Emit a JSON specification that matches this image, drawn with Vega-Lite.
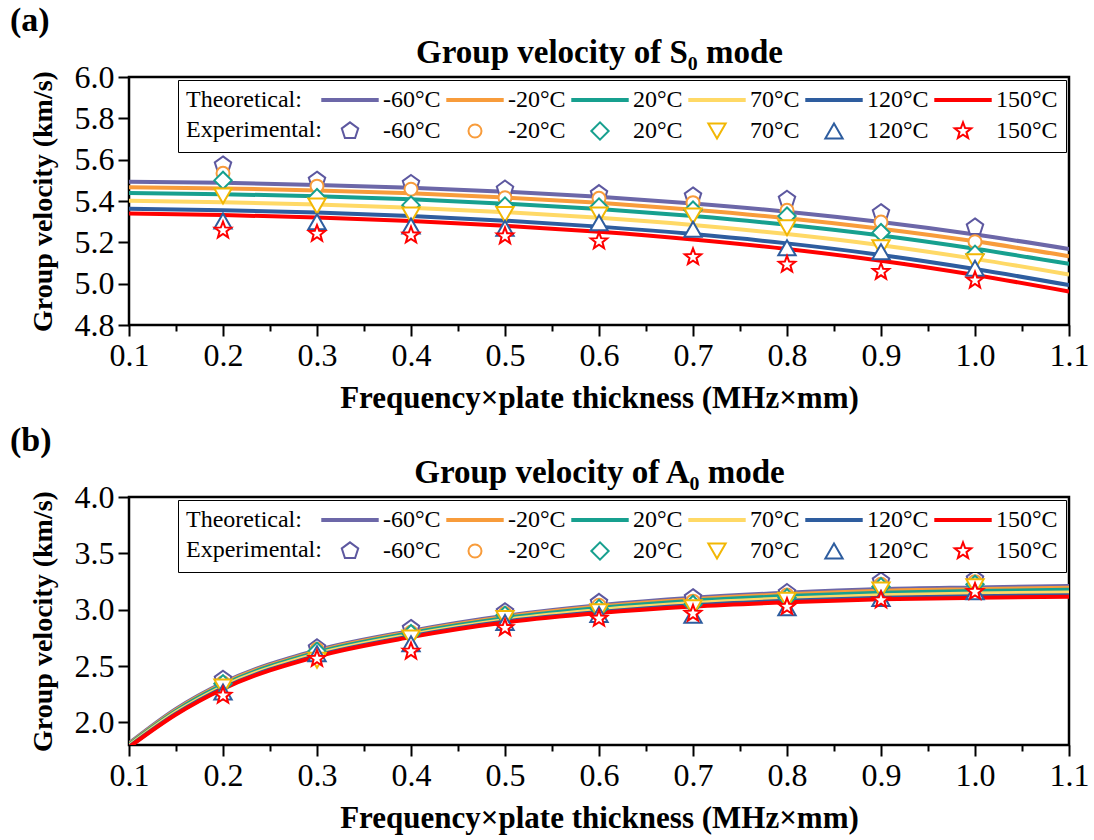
{
  "$schema": "https://vega.github.io/schema/vega-lite/v6.json",
  "padding": {"left": 8, "top": 2, "right": 5, "bottom": 2},
  "background": "white",
  "config": {
    "font": "Liberation Serif",
    "view": {"stroke": "black", "strokeWidth": 2.5},
    "axis": {
      "labelFont": "Liberation Serif", "labelFontSize": 32, "labelColor": "black",
      "titleFont": "Liberation Serif", "titleFontSize": 28, "titleFontWeight": "bold", "titleColor": "black",
      "tickColor": "black", "tickWidth": 2, "domain": false, "grid": false, "labelPadding": 4,
      "labelOverlap": false, "labelFlush": false
    },
    "legend": {
      "labelFont": "Liberation Serif", "titleFont": "Liberation Serif", "direction": "horizontal"
    }
  },
  "datasets": {
    "lineA": [
      {"x": 0.1, "v": 5.493, "k": "T-60"}, {"x": 0.2, "v": 5.488, "k": "T-60"}, {"x": 0.3, "v": 5.478, "k": "T-60"}, {"x": 0.4, "v": 5.464, "k": "T-60"}, {"x": 0.5, "v": 5.445, "k": "T-60"}, {"x": 0.6, "v": 5.420, "k": "T-60"}, {"x": 0.7, "v": 5.388, "k": "T-60"}, {"x": 0.8, "v": 5.348, "k": "T-60"}, {"x": 0.9, "v": 5.298, "k": "T-60"}, {"x": 1.0, "v": 5.238, "k": "T-60"}, {"x": 1.1, "v": 5.168, "k": "T-60"},
      {"x": 0.1, "v": 5.467, "k": "T-20"}, {"x": 0.2, "v": 5.461, "k": "T-20"}, {"x": 0.3, "v": 5.451, "k": "T-20"}, {"x": 0.4, "v": 5.437, "k": "T-20"}, {"x": 0.5, "v": 5.417, "k": "T-20"}, {"x": 0.6, "v": 5.391, "k": "T-20"}, {"x": 0.7, "v": 5.358, "k": "T-20"}, {"x": 0.8, "v": 5.317, "k": "T-20"}, {"x": 0.9, "v": 5.266, "k": "T-20"}, {"x": 1.0, "v": 5.205, "k": "T-20"}, {"x": 1.1, "v": 5.133, "k": "T-20"},
      {"x": 0.1, "v": 5.439, "k": "T20"}, {"x": 0.2, "v": 5.433, "k": "T20"}, {"x": 0.3, "v": 5.423, "k": "T20"}, {"x": 0.4, "v": 5.408, "k": "T20"}, {"x": 0.5, "v": 5.387, "k": "T20"}, {"x": 0.6, "v": 5.361, "k": "T20"}, {"x": 0.7, "v": 5.327, "k": "T20"}, {"x": 0.8, "v": 5.285, "k": "T20"}, {"x": 0.9, "v": 5.233, "k": "T20"}, {"x": 1.0, "v": 5.169, "k": "T20"}, {"x": 1.1, "v": 5.096, "k": "T20"},
      {"x": 0.1, "v": 5.401, "k": "T70"}, {"x": 0.2, "v": 5.394, "k": "T70"}, {"x": 0.3, "v": 5.383, "k": "T70"}, {"x": 0.4, "v": 5.367, "k": "T70"}, {"x": 0.5, "v": 5.346, "k": "T70"}, {"x": 0.6, "v": 5.319, "k": "T70"}, {"x": 0.7, "v": 5.284, "k": "T70"}, {"x": 0.8, "v": 5.240, "k": "T70"}, {"x": 0.9, "v": 5.186, "k": "T70"}, {"x": 1.0, "v": 5.120, "k": "T70"}, {"x": 1.1, "v": 5.044, "k": "T70"},
      {"x": 0.1, "v": 5.362, "k": "T120"}, {"x": 0.2, "v": 5.355, "k": "T120"}, {"x": 0.3, "v": 5.344, "k": "T120"}, {"x": 0.4, "v": 5.327, "k": "T120"}, {"x": 0.5, "v": 5.305, "k": "T120"}, {"x": 0.6, "v": 5.276, "k": "T120"}, {"x": 0.7, "v": 5.240, "k": "T120"}, {"x": 0.8, "v": 5.195, "k": "T120"}, {"x": 0.9, "v": 5.139, "k": "T120"}, {"x": 1.0, "v": 5.071, "k": "T120"}, {"x": 1.1, "v": 4.993, "k": "T120"},
      {"x": 0.1, "v": 5.339, "k": "T150"}, {"x": 0.2, "v": 5.332, "k": "T150"}, {"x": 0.3, "v": 5.320, "k": "T150"}, {"x": 0.4, "v": 5.303, "k": "T150"}, {"x": 0.5, "v": 5.280, "k": "T150"}, {"x": 0.6, "v": 5.251, "k": "T150"}, {"x": 0.7, "v": 5.214, "k": "T150"}, {"x": 0.8, "v": 5.168, "k": "T150"}, {"x": 0.9, "v": 5.111, "k": "T150"}, {"x": 1.0, "v": 5.042, "k": "T150"}, {"x": 1.1, "v": 4.962, "k": "T150"}
    ],
    "ptsA": [
      {"x": 0.2, "v": 5.574, "k": "E-60"}, {"x": 0.3, "v": 5.500, "k": "E-60"}, {"x": 0.4, "v": 5.484, "k": "E-60"}, {"x": 0.5, "v": 5.457, "k": "E-60"}, {"x": 0.6, "v": 5.435, "k": "E-60"}, {"x": 0.7, "v": 5.424, "k": "E-60"}, {"x": 0.8, "v": 5.408, "k": "E-60"}, {"x": 0.9, "v": 5.343, "k": "E-60"}, {"x": 1.0, "v": 5.274, "k": "E-60"},
      {"x": 0.2, "v": 5.534, "k": "E-20"}, {"x": 0.3, "v": 5.472, "k": "E-20"}, {"x": 0.4, "v": 5.457, "k": "E-20"}, {"x": 0.5, "v": 5.416, "k": "E-20"}, {"x": 0.6, "v": 5.413, "k": "E-20"}, {"x": 0.7, "v": 5.392, "k": "E-20"}, {"x": 0.8, "v": 5.355, "k": "E-20"}, {"x": 0.9, "v": 5.298, "k": "E-20"}, {"x": 1.0, "v": 5.203, "k": "E-20"},
      {"x": 0.2, "v": 5.500, "k": "E20"}, {"x": 0.3, "v": 5.416, "k": "E20"}, {"x": 0.4, "v": 5.380, "k": "E20"}, {"x": 0.5, "v": 5.376, "k": "E20"}, {"x": 0.6, "v": 5.371, "k": "E20"}, {"x": 0.7, "v": 5.356, "k": "E20"}, {"x": 0.8, "v": 5.327, "k": "E20"}, {"x": 0.9, "v": 5.247, "k": "E20"}, {"x": 1.0, "v": 5.142, "k": "E20"},
      {"x": 0.2, "v": 5.424, "k": "E70"}, {"x": 0.3, "v": 5.376, "k": "E70"}, {"x": 0.4, "v": 5.332, "k": "E70"}, {"x": 0.5, "v": 5.335, "k": "E70"}, {"x": 0.6, "v": 5.332, "k": "E70"}, {"x": 0.7, "v": 5.327, "k": "E70"}, {"x": 0.8, "v": 5.271, "k": "E70"}, {"x": 0.9, "v": 5.174, "k": "E70"}, {"x": 1.0, "v": 5.106, "k": "E70"},
      {"x": 0.2, "v": 5.303, "k": "E120"}, {"x": 0.3, "v": 5.300, "k": "E120"}, {"x": 0.4, "v": 5.279, "k": "E120"}, {"x": 0.5, "v": 5.268, "k": "E120"}, {"x": 0.6, "v": 5.295, "k": "E120"}, {"x": 0.7, "v": 5.263, "k": "E120"}, {"x": 0.8, "v": 5.174, "k": "E120"}, {"x": 0.9, "v": 5.155, "k": "E120"}, {"x": 1.0, "v": 5.074, "k": "E120"},
      {"x": 0.2, "v": 5.258, "k": "E150"}, {"x": 0.3, "v": 5.242, "k": "E150"}, {"x": 0.4, "v": 5.234, "k": "E150"}, {"x": 0.5, "v": 5.230, "k": "E150"}, {"x": 0.6, "v": 5.206, "k": "E150"}, {"x": 0.7, "v": 5.129, "k": "E150"}, {"x": 0.8, "v": 5.093, "k": "E150"}, {"x": 0.9, "v": 5.058, "k": "E150"}, {"x": 1.0, "v": 5.016, "k": "E150"}
    ],
    "lineB": [
      {"x": 0.1, "v": 1.815, "k": "T-60"}, {"x": 0.15, "v": 2.12, "k": "T-60"}, {"x": 0.2, "v": 2.352, "k": "T-60"}, {"x": 0.3, "v": 2.64, "k": "T-60"}, {"x": 0.4, "v": 2.812, "k": "T-60"}, {"x": 0.5, "v": 2.946, "k": "T-60"}, {"x": 0.6, "v": 3.04, "k": "T-60"}, {"x": 0.7, "v": 3.106, "k": "T-60"}, {"x": 0.8, "v": 3.151, "k": "T-60"}, {"x": 0.9, "v": 3.183, "k": "T-60"}, {"x": 1.0, "v": 3.198, "k": "T-60"}, {"x": 1.1, "v": 3.21, "k": "T-60"},
      {"x": 0.1, "v": 1.809, "k": "T-20"}, {"x": 0.15, "v": 2.112, "k": "T-20"}, {"x": 0.2, "v": 2.343, "k": "T-20"}, {"x": 0.3, "v": 2.631, "k": "T-20"}, {"x": 0.4, "v": 2.803, "k": "T-20"}, {"x": 0.5, "v": 2.936, "k": "T-20"}, {"x": 0.6, "v": 3.028, "k": "T-20"}, {"x": 0.7, "v": 3.093, "k": "T-20"}, {"x": 0.8, "v": 3.137, "k": "T-20"}, {"x": 0.9, "v": 3.168, "k": "T-20"}, {"x": 1.0, "v": 3.182, "k": "T-20"}, {"x": 1.1, "v": 3.194, "k": "T-20"},
      {"x": 0.1, "v": 1.803, "k": "T20"}, {"x": 0.15, "v": 2.102, "k": "T20"}, {"x": 0.2, "v": 2.333, "k": "T20"}, {"x": 0.3, "v": 2.621, "k": "T20"}, {"x": 0.4, "v": 2.793, "k": "T20"}, {"x": 0.5, "v": 2.925, "k": "T20"}, {"x": 0.6, "v": 3.015, "k": "T20"}, {"x": 0.7, "v": 3.079, "k": "T20"}, {"x": 0.8, "v": 3.121, "k": "T20"}, {"x": 0.9, "v": 3.151, "k": "T20"}, {"x": 1.0, "v": 3.166, "k": "T20"}, {"x": 1.1, "v": 3.177, "k": "T20"},
      {"x": 0.1, "v": 1.794, "k": "T70"}, {"x": 0.15, "v": 2.09, "k": "T70"}, {"x": 0.2, "v": 2.319, "k": "T70"}, {"x": 0.3, "v": 2.607, "k": "T70"}, {"x": 0.4, "v": 2.779, "k": "T70"}, {"x": 0.5, "v": 2.91, "k": "T70"}, {"x": 0.6, "v": 2.998, "k": "T70"}, {"x": 0.7, "v": 3.059, "k": "T70"}, {"x": 0.8, "v": 3.1, "k": "T70"}, {"x": 0.9, "v": 3.129, "k": "T70"}, {"x": 1.0, "v": 3.143, "k": "T70"}, {"x": 1.1, "v": 3.153, "k": "T70"},
      {"x": 0.1, "v": 1.785, "k": "T120"}, {"x": 0.15, "v": 2.077, "k": "T120"}, {"x": 0.2, "v": 2.305, "k": "T120"}, {"x": 0.3, "v": 2.593, "k": "T120"}, {"x": 0.4, "v": 2.765, "k": "T120"}, {"x": 0.5, "v": 2.895, "k": "T120"}, {"x": 0.6, "v": 2.98, "k": "T120"}, {"x": 0.7, "v": 3.04, "k": "T120"}, {"x": 0.8, "v": 3.079, "k": "T120"}, {"x": 0.9, "v": 3.106, "k": "T120"}, {"x": 1.0, "v": 3.12, "k": "T120"}, {"x": 1.1, "v": 3.129, "k": "T120"},
      {"x": 0.1, "v": 1.78, "k": "T150"}, {"x": 0.15, "v": 2.07, "k": "T150"}, {"x": 0.2, "v": 2.297, "k": "T150"}, {"x": 0.3, "v": 2.585, "k": "T150"}, {"x": 0.4, "v": 2.757, "k": "T150"}, {"x": 0.5, "v": 2.886, "k": "T150"}, {"x": 0.6, "v": 2.97, "k": "T150"}, {"x": 0.7, "v": 3.028, "k": "T150"}, {"x": 0.8, "v": 3.066, "k": "T150"}, {"x": 0.9, "v": 3.093, "k": "T150"}, {"x": 1.0, "v": 3.106, "k": "T150"}, {"x": 1.1, "v": 3.115, "k": "T150"}
    ],
    "ptsB": [
      {"x": 0.2, "v": 2.382, "k": "E-60"}, {"x": 0.3, "v": 2.661, "k": "E-60"}, {"x": 0.4, "v": 2.833, "k": "E-60"}, {"x": 0.5, "v": 2.981, "k": "E-60"}, {"x": 0.6, "v": 3.064, "k": "E-60"}, {"x": 0.7, "v": 3.106, "k": "E-60"}, {"x": 0.8, "v": 3.151, "k": "E-60"}, {"x": 0.9, "v": 3.254, "k": "E-60"}, {"x": 1.0, "v": 3.272, "k": "E-60"},
      {"x": 0.2, "v": 2.352, "k": "E-20"}, {"x": 0.3, "v": 2.649, "k": "E-20"}, {"x": 0.4, "v": 2.80, "k": "E-20"}, {"x": 0.5, "v": 2.966, "k": "E-20"}, {"x": 0.6, "v": 3.04, "k": "E-20"}, {"x": 0.7, "v": 3.076, "k": "E-20"}, {"x": 0.8, "v": 3.13, "k": "E-20"}, {"x": 0.9, "v": 3.225, "k": "E-20"}, {"x": 1.0, "v": 3.249, "k": "E-20"},
      {"x": 0.2, "v": 2.343, "k": "E20"}, {"x": 0.3, "v": 2.631, "k": "E20"}, {"x": 0.4, "v": 2.788, "k": "E20"}, {"x": 0.5, "v": 2.951, "k": "E20"}, {"x": 0.6, "v": 3.011, "k": "E20"}, {"x": 0.7, "v": 3.047, "k": "E20"}, {"x": 0.8, "v": 3.106, "k": "E20"}, {"x": 0.9, "v": 3.204, "k": "E20"}, {"x": 1.0, "v": 3.225, "k": "E20"},
      {"x": 0.2, "v": 2.314, "k": "E70"}, {"x": 0.3, "v": 2.551, "k": "E70"}, {"x": 0.4, "v": 2.75, "k": "E70"}, {"x": 0.5, "v": 2.922, "k": "E70"}, {"x": 0.6, "v": 2.981, "k": "E70"}, {"x": 0.7, "v": 3.017, "k": "E70"}, {"x": 0.8, "v": 3.085, "k": "E70"}, {"x": 0.9, "v": 3.174, "k": "E70"}, {"x": 1.0, "v": 3.204, "k": "E70"},
      {"x": 0.2, "v": 2.27, "k": "E120"}, {"x": 0.3, "v": 2.61, "k": "E120"}, {"x": 0.4, "v": 2.699, "k": "E120"}, {"x": 0.5, "v": 2.886, "k": "E120"}, {"x": 0.6, "v": 2.958, "k": "E120"}, {"x": 0.7, "v": 2.951, "k": "E120"}, {"x": 0.8, "v": 3.017, "k": "E120"}, {"x": 0.9, "v": 3.1, "k": "E120"}, {"x": 1.0, "v": 3.16, "k": "E120"},
      {"x": 0.2, "v": 2.239, "k": "E150"}, {"x": 0.3, "v": 2.566, "k": "E150"}, {"x": 0.4, "v": 2.631, "k": "E150"}, {"x": 0.5, "v": 2.839, "k": "E150"}, {"x": 0.6, "v": 2.922, "k": "E150"}, {"x": 0.7, "v": 2.966, "k": "E150"}, {"x": 0.8, "v": 3.026, "k": "E150"}, {"x": 0.9, "v": 3.085, "k": "E150"}, {"x": 1.0, "v": 3.16, "k": "E150"}
    ]
  },
  "spacing": 7,
  "resolve": {"scale": {"stroke": "independent", "shape": "independent"}},
  "vconcat": [
    {
      "title": {"text": "(a)", "anchor": "start", "frame": "bounds", "font": "Liberation Serif", "fontSize": 34, "fontWeight": "bold", "color": "black", "dx": -19, "offset": -2},
      "width": 940,
      "height": 248,
      "resolve": {"axis": {"x": "independent"}},
      "layer": [
        {
          "data": {"name": "lineA"},
          "mark": {"type": "line", "strokeWidth": 4, "interpolate": "monotone", "clip": true},
          "encoding": {
            "x": {"field": "x", "type": "quantitative", "scale": {"domain": [0.1, 1.1], "nice": false, "zero": false},
              "axis": {"title": "Frequency×plate thickness (MHz×mm)", "titleFontSize": 31, "titlePadding": 12,
                "values": [0.1, 0.15, 0.2, 0.25, 0.3, 0.35, 0.4, 0.45, 0.5, 0.55, 0.6, 0.65, 0.7, 0.75, 0.8, 0.85, 0.9, 0.95, 1.0, 1.05, 1.1],
                "labelExpr": "round(datum.value*20) % 2 == 0 ? format(datum.value, '.1f') : ''",
                "tickSize": {"condition": {"test": "round(datum.value*20) % 2 == 1", "value": 6}, "value": 11}}},
            "y": {"field": "v", "type": "quantitative", "scale": {"domain": [4.8, 6.0], "nice": false, "zero": false},
              "axis": {"title": "Group velocity (km/s)", "titlePadding": 17,
                "values": [4.8, 4.9, 5.0, 5.1, 5.2, 5.3, 5.4, 5.5, 5.6, 5.7, 5.8, 5.9, 6.0],
                "labelExpr": "round(datum.value*10) % 2 == 0 ? format(datum.value, '.1f') : ''",
                "tickSize": {"condition": {"test": "round(datum.value*10) % 2 == 1", "value": 6}, "value": 11}}},
            "stroke": {"field": "k", "type": "nominal",
              "scale": {"domain": ["T-60", "T-20", "T20", "T70", "T120", "T150", "E-60", "E-20", "E20", "E70", "E120", "E150"],
                "range": ["#6C67A8", "#F89C3B", "#17A08F", "#FFD966", "#2E5D9F", "#FF0000", "#5D58A0", "#F89C3B", "#17A08F", "#F2B705", "#2E5D9F", "#FF0000"]},
              "legend": {"title": ["Theoretical:", "Experimental:"], "titleOrient": "left", "titleAnchor": "start", "titleBaseline": "top", "titleLineHeight": 30,
                "titleFontSize": 24, "titleFontWeight": "normal", "titleColor": "black", "titlePadding": 16,
                "orient": "top-right", "offset": 3, "columns": 6, "direction": "horizontal", "labelExpr": "slice(datum.label, 1) + '°C'",
                "labelFontSize": 24, "labelColor": "black", "labelOffset": 21, "columnPadding": 2, "rowPadding": 6,
                "symbolSize": 300, "symbolStrokeWidth": 2, "symbolFillColor": "white", "symbolOpacity": 1,
                "strokeColor": "black", "padding": 8, "fillColor": "white"}}
          }
        },
        {
          "data": {"name": "ptsA"},
          "mark": {"type": "point", "filled": true, "fill": "white", "strokeWidth": 2, "size": 300, "opacity": 1},
          "encoding": {
            "x": {"field": "x", "type": "quantitative",
              "axis": {"orient": "top", "title": "Group velocity of S₀ mode", "titleFontSize": 33, "labels": false, "ticks": false, "domain": false, "titlePadding": 8}},
            "y": {"field": "v", "type": "quantitative"},
            "stroke": {"field": "k", "type": "nominal",
              "scale": {"domain": ["T-60", "T-20", "T20", "T70", "T120", "T150", "E-60", "E-20", "E20", "E70", "E120", "E150"],
                "range": ["#6C67A8", "#F89C3B", "#17A08F", "#FFD966", "#2E5D9F", "#FF0000", "#5D58A0", "#F89C3B", "#17A08F", "#F2B705", "#2E5D9F", "#FF0000"]},
              "legend": {"title": ["Theoretical:", "Experimental:"], "titleOrient": "left", "titleAnchor": "start", "titleBaseline": "top", "titleLineHeight": 30,
                "titleFontSize": 24, "titleFontWeight": "normal", "titleColor": "black", "titlePadding": 16,
                "orient": "top-right", "offset": 3, "columns": 6, "direction": "horizontal", "labelExpr": "slice(datum.label, 1) + '°C'",
                "labelFontSize": 24, "labelColor": "black", "labelOffset": 21, "columnPadding": 2, "rowPadding": 6,
                "symbolSize": 300, "symbolStrokeWidth": 2, "symbolFillColor": "white", "symbolOpacity": 1,
                "strokeColor": "black", "padding": 8, "fillColor": "white"}},
            "shape": {"field": "k", "type": "nominal",
              "scale": {"domain": ["T-60", "T-20", "T20", "T70", "T120", "T150", "E-60", "E-20", "E20", "E70", "E120", "E150"],
                "range": ["M-3.2,-0.12H3.2V0.12H-3.2Z", "M-3.2,-0.12H3.2V0.12H-3.2Z", "M-3.2,-0.12H3.2V0.12H-3.2Z", "M-3.2,-0.12H3.2V0.12H-3.2Z", "M-3.2,-0.12H3.2V0.12H-3.2Z", "M-3.2,-0.12H3.2V0.12H-3.2Z",
                  "M0,-1L0.951,-0.309L0.588,0.809L-0.588,0.809L-0.951,-0.309Z", "M0.75,0A0.75,0.75 0 1,1 -0.75,0A0.75,0.75 0 1,1 0.75,0Z", "diamond", "triangle-down", "triangle-up",
                  "M0,-1L0.247,-0.34L0.951,-0.309L0.399,0.13L0.588,0.809L0,0.42L-0.588,0.809L-0.399,0.13L-0.951,-0.309L-0.247,-0.34Z"]},
              "legend": {"title": ["Theoretical:", "Experimental:"], "titleOrient": "left", "titleAnchor": "start", "titleBaseline": "top", "titleLineHeight": 30,
                "titleFontSize": 24, "titleFontWeight": "normal", "titleColor": "black", "titlePadding": 16,
                "orient": "top-right", "offset": 3, "columns": 6, "direction": "horizontal", "labelExpr": "slice(datum.label, 1) + '°C'",
                "labelFontSize": 24, "labelColor": "black", "labelOffset": 21, "columnPadding": 2, "rowPadding": 6,
                "symbolSize": 300, "symbolStrokeWidth": 2, "symbolFillColor": "white", "symbolOpacity": 1,
                "strokeColor": "black", "padding": 8, "fillColor": "white"}}
          }
        }
      ]
    },
    {
      "title": {"text": "(b)", "anchor": "start", "frame": "bounds", "font": "Liberation Serif", "fontSize": 34, "fontWeight": "bold", "color": "black", "dx": -19, "offset": -2},
      "width": 940,
      "height": 248,
      "resolve": {"axis": {"x": "independent"}},
      "layer": [
        {
          "data": {"name": "lineB"},
          "mark": {"type": "line", "strokeWidth": 4, "interpolate": "monotone", "clip": true},
          "encoding": {
            "x": {"field": "x", "type": "quantitative", "scale": {"domain": [0.1, 1.1], "nice": false, "zero": false},
              "axis": {"title": "Frequency×plate thickness (MHz×mm)", "titleFontSize": 31, "titlePadding": 12,
                "values": [0.1, 0.15, 0.2, 0.25, 0.3, 0.35, 0.4, 0.45, 0.5, 0.55, 0.6, 0.65, 0.7, 0.75, 0.8, 0.85, 0.9, 0.95, 1.0, 1.05, 1.1],
                "labelExpr": "round(datum.value*20) % 2 == 0 ? format(datum.value, '.1f') : ''",
                "tickSize": {"condition": {"test": "round(datum.value*20) % 2 == 1", "value": 6}, "value": 11}}},
            "y": {"field": "v", "type": "quantitative", "scale": {"domain": [1.8, 4.0], "nice": false, "zero": false},
              "axis": {"title": "Group velocity (km/s)", "titlePadding": 17,
                "values": [2.0, 2.25, 2.5, 2.75, 3.0, 3.25, 3.5, 3.75, 4.0],
                "labelExpr": "round(datum.value*4) % 2 == 0 ? format(datum.value, '.1f') : ''",
                "tickSize": {"condition": {"test": "round(datum.value*4) % 2 == 1", "value": 6}, "value": 11}}},
            "stroke": {"field": "k", "type": "nominal",
              "scale": {"domain": ["T-60", "T-20", "T20", "T70", "T120", "T150", "E-60", "E-20", "E20", "E70", "E120", "E150"],
                "range": ["#6C67A8", "#F89C3B", "#17A08F", "#FFD966", "#2E5D9F", "#FF0000", "#5D58A0", "#F89C3B", "#17A08F", "#F2B705", "#2E5D9F", "#FF0000"]},
              "legend": {"title": ["Theoretical:", "Experimental:"], "titleOrient": "left", "titleAnchor": "start", "titleBaseline": "top", "titleLineHeight": 30,
                "titleFontSize": 24, "titleFontWeight": "normal", "titleColor": "black", "titlePadding": 16,
                "orient": "top-right", "offset": 3, "columns": 6, "direction": "horizontal", "labelExpr": "slice(datum.label, 1) + '°C'",
                "labelFontSize": 24, "labelColor": "black", "labelOffset": 21, "columnPadding": 2, "rowPadding": 6,
                "symbolSize": 300, "symbolStrokeWidth": 2, "symbolFillColor": "white", "symbolOpacity": 1,
                "strokeColor": "black", "padding": 8, "fillColor": "white"}}
          }
        },
        {
          "data": {"name": "ptsB"},
          "mark": {"type": "point", "filled": true, "fill": "white", "strokeWidth": 2, "size": 300, "opacity": 1},
          "encoding": {
            "x": {"field": "x", "type": "quantitative",
              "axis": {"orient": "top", "title": "Group velocity of A₀ mode", "titleFontSize": 33, "labels": false, "ticks": false, "domain": false, "titlePadding": 8}},
            "y": {"field": "v", "type": "quantitative"},
            "stroke": {"field": "k", "type": "nominal",
              "scale": {"domain": ["T-60", "T-20", "T20", "T70", "T120", "T150", "E-60", "E-20", "E20", "E70", "E120", "E150"],
                "range": ["#6C67A8", "#F89C3B", "#17A08F", "#FFD966", "#2E5D9F", "#FF0000", "#5D58A0", "#F89C3B", "#17A08F", "#F2B705", "#2E5D9F", "#FF0000"]},
              "legend": {"title": ["Theoretical:", "Experimental:"], "titleOrient": "left", "titleAnchor": "start", "titleBaseline": "top", "titleLineHeight": 30,
                "titleFontSize": 24, "titleFontWeight": "normal", "titleColor": "black", "titlePadding": 16,
                "orient": "top-right", "offset": 3, "columns": 6, "direction": "horizontal", "labelExpr": "slice(datum.label, 1) + '°C'",
                "labelFontSize": 24, "labelColor": "black", "labelOffset": 21, "columnPadding": 2, "rowPadding": 6,
                "symbolSize": 300, "symbolStrokeWidth": 2, "symbolFillColor": "white", "symbolOpacity": 1,
                "strokeColor": "black", "padding": 8, "fillColor": "white"}},
            "shape": {"field": "k", "type": "nominal",
              "scale": {"domain": ["T-60", "T-20", "T20", "T70", "T120", "T150", "E-60", "E-20", "E20", "E70", "E120", "E150"],
                "range": ["M-3.2,-0.12H3.2V0.12H-3.2Z", "M-3.2,-0.12H3.2V0.12H-3.2Z", "M-3.2,-0.12H3.2V0.12H-3.2Z", "M-3.2,-0.12H3.2V0.12H-3.2Z", "M-3.2,-0.12H3.2V0.12H-3.2Z", "M-3.2,-0.12H3.2V0.12H-3.2Z",
                  "M0,-1L0.951,-0.309L0.588,0.809L-0.588,0.809L-0.951,-0.309Z", "M0.75,0A0.75,0.75 0 1,1 -0.75,0A0.75,0.75 0 1,1 0.75,0Z", "diamond", "triangle-down", "triangle-up",
                  "M0,-1L0.247,-0.34L0.951,-0.309L0.399,0.13L0.588,0.809L0,0.42L-0.588,0.809L-0.399,0.13L-0.951,-0.309L-0.247,-0.34Z"]},
              "legend": {"title": ["Theoretical:", "Experimental:"], "titleOrient": "left", "titleAnchor": "start", "titleBaseline": "top", "titleLineHeight": 30,
                "titleFontSize": 24, "titleFontWeight": "normal", "titleColor": "black", "titlePadding": 16,
                "orient": "top-right", "offset": 3, "columns": 6, "direction": "horizontal", "labelExpr": "slice(datum.label, 1) + '°C'",
                "labelFontSize": 24, "labelColor": "black", "labelOffset": 21, "columnPadding": 2, "rowPadding": 6,
                "symbolSize": 300, "symbolStrokeWidth": 2, "symbolFillColor": "white", "symbolOpacity": 1,
                "strokeColor": "black", "padding": 8, "fillColor": "white"}}
          }
        }
      ]
    }
  ]
}
